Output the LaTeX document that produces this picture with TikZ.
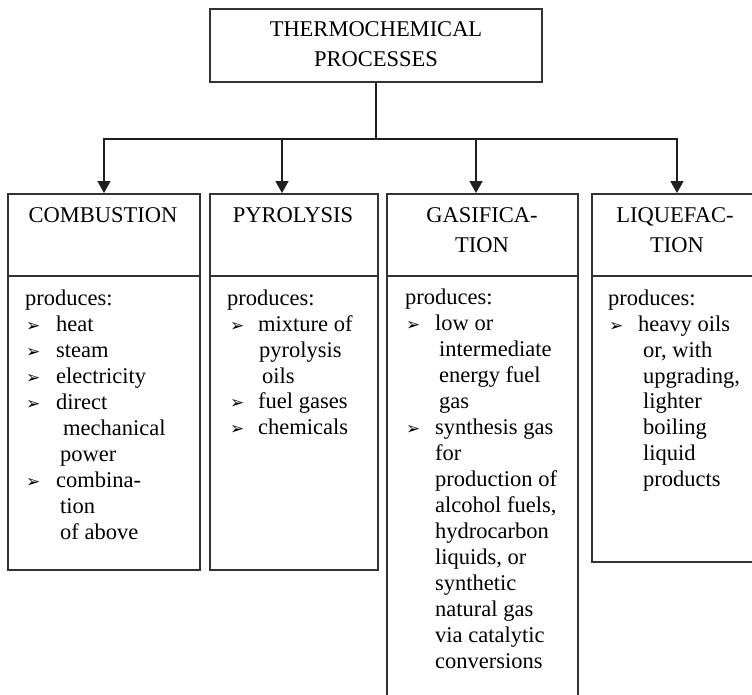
\documentclass[tikz,border=0pt]{standalone}
\usepackage{fontspec}
\setmainfont{Liberation Serif}
\newfontfamily\dejavu{DejaVu Sans}
\usetikzlibrary{arrows.meta}
\begin{document}
\begin{tikzpicture}[x=1pt,y=-1pt,
  box/.style={draw=black!80, line width=1.7pt, rectangle, inner sep=0pt, anchor=north west},
  txt/.style={font=\fontsize{22.5}{26}\selectfont, inner sep=0pt, anchor=base west},
  ctr/.style={font=\fontsize{22.5}{26}\selectfont, inner sep=0pt, anchor=base},
  bul/.style={font=\dejavu\fontsize{17}{17}\selectfont, inner sep=0pt, anchor=base west},
  conn/.style={draw=black!88, line width=1.7pt},
  arr/.style={conn, -{Triangle[width=13pt,length=12pt]}}]
\clip (0,0) rectangle (752,694);
\fill[white] (0,0) rectangle (752,694);

% top box
\node[box, minimum width=332pt, minimum height=73pt] (top) at (209,8) {};
\node[ctr] (topA) at (376,36) {THERMOCHEMICAL};
\node[ctr] (topB) at (376,66) {PROCESSES};

% header boxes
\node[box, minimum width=192pt, minimum height=82pt] (combH) at (7,193) {};
\node[box, minimum width=168pt, minimum height=82pt] (pyroH) at (209,193) {};
\node[box, minimum width=191pt, minimum height=82pt] (gasH) at (386,193) {};
\node[box, minimum width=168pt, minimum height=82pt] (liqH) at (591,193) {};

% body boxes
\node[box, minimum width=192pt, minimum height=294pt] (combB) at (7,275) {};
\node[box, minimum width=168pt, minimum height=294pt] (pyroB) at (209,275) {};
\node[box, minimum width=191pt, minimum height=440pt] (gasB) at (386,275) {};
\node[box, minimum width=168pt, minimum height=286pt] (liqB) at (591,275) {};

% connectors
\coordinate (hub) at (376,139);
\coordinate (t1) at (104,193);
\coordinate (t2) at (282,193);
\coordinate (t3) at (476,193);
\coordinate (t4) at (677,193);
\draw[conn] (top.south -| hub) -- (hub);
\draw[arr] (hub) -| (t1);
\draw[arr] (hub) -| (t2);
\draw[arr] (hub) -| (t3);
\draw[arr] (hub) -| (t4);

% header titles
\node[ctr] (combT) at (103,222) {COMBUSTION};
\node[ctr] (pyroT) at (293,222) {PYROLYSIS};
\node[ctr] (gasT1) at (482,222) {GASIFICA-};
\node[ctr] (gasT2) at (482,252) {TION};
\node[ctr] (liqT1) at (675,222) {LIQUEFAC-};
\node[ctr] (liqT2) at (677,252) {TION};

% combustion body
\node[txt] (c0) at (25,305) {produces:};
\node[bul] (cb1) at (26,331) {➢};
\node[txt] (c1) at (56,331) {heat};
\node[bul] (cb2) at (26,357) {➢};
\node[txt] (c2) at (56,357) {steam};
\node[bul] (cb3) at (26,383) {➢};
\node[txt] (c3) at (56,383) {electricity};
\node[bul] (cb4) at (26,409) {➢};
\node[txt] (c4) at (56,409) {direct};
\node[txt] (c5) at (63,435) {mechanical};
\node[txt] (c6) at (60,461) {power};
\node[bul] (cb5) at (26,487) {➢};
\node[txt] (c7) at (56,487) {combina-};
\node[txt] (c8) at (60,513) {tion};
\node[txt] (c9) at (60,539) {of above};

% pyrolysis body
\node[txt] (p0) at (227,305) {produces:};
\node[bul] (pb1) at (230,331) {➢};
\node[txt] (p1) at (258,331) {mixture of};
\node[txt] (p2) at (259,357) {pyrolysis};
\node[txt] (p3) at (262,383) {oils};
\node[bul] (pb2) at (230,408) {➢};
\node[txt] (p4) at (258,408) {fuel gases};
\node[bul] (pb3) at (230,434) {➢};
\node[txt] (p5) at (258,434) {chemicals};

% gasification body
\node[txt] (g0) at (405,304) {produces:};
\node[bul] (gb1) at (406,330) {➢};
\node[txt] (g1) at (435,330) {low or};
\node[txt] (g2) at (439,356) {intermediate};
\node[txt] (g3) at (439,382) {energy fuel};
\node[txt] (g4) at (439,408) {gas};
\node[bul] (gb2) at (406,434) {➢};
\node[txt] (g5) at (435,434) {synthesis gas};
\node[txt] (g6) at (435,460) {for};
\node[txt] (g7) at (435,486) {production of};
\node[txt] (g8) at (435,512) {alcohol fuels,};
\node[txt] (g9) at (435,538) {hydrocarbon};
\node[txt] (g10) at (435,564) {liquids, or};
\node[txt] (g11) at (435,590) {synthetic};
\node[txt] (g12) at (435,616) {natural gas};
\node[txt] (g13) at (435,642) {via catalytic};
\node[txt] (g14) at (435,668) {conversions};

% liquefaction body
\node[txt] (l0) at (608,305) {produces:};
\node[bul] (lb1) at (609,331) {➢};
\node[txt] (l1) at (638,331) {heavy oils};
\node[txt] (l2) at (643,357) {or, with};
\node[txt] (l3) at (643,383) {upgrading,};
\node[txt] (l4) at (643,408) {lighter};
\node[txt] (l5) at (643,434) {boiling};
\node[txt] (l6) at (643,460) {liquid};
\node[txt] (l7) at (643,486) {products};
\end{tikzpicture}
\end{document}
